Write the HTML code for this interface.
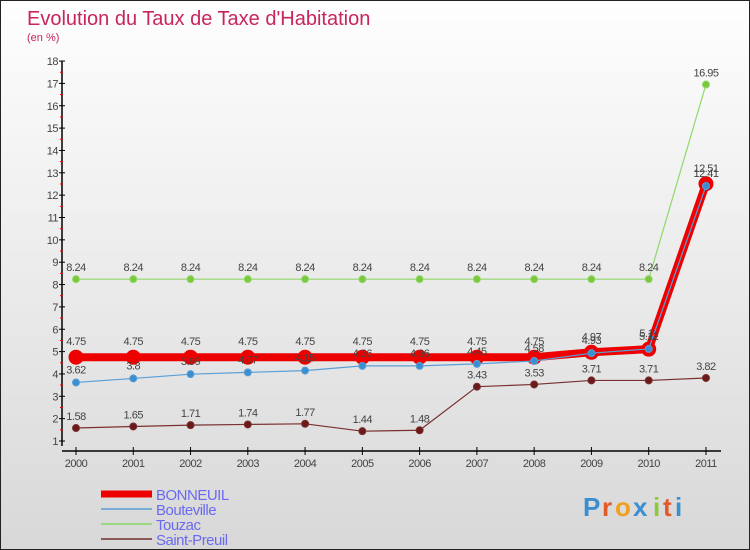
<!DOCTYPE html>
<html><head><meta charset="utf-8"><style>
body{margin:0;}
#wrap{width:750px;height:550px;position:relative;box-sizing:border-box;border:1px solid #222;background:linear-gradient(#fefefe,#d8d8d8);font-family:"Liberation Sans",sans-serif;overflow:hidden}
svg text{font-family:"Liberation Sans",sans-serif}
</style></head><body>
<div id="wrap">
<svg id="chart" width="750" height="550">
<text x="26" y="24" font-size="20" fill="#c8265a">Evolution du Taux de Taxe d'Habitation</text>
<text x="26" y="40" font-size="11" fill="#c8265a">(en %)</text>
<g id="axes"></g><g id="series"></g><g id="legend"></g>
<g font-size="26" font-weight="bold">
<text x="582" y="515" fill="#3a8fd0">P</text><text x="601" y="515" fill="#e05a2a">r</text><text x="614" y="515" fill="#f0a020">o</text><text x="632" y="515" fill="#3a8fd0">x</text><text x="652" y="515" fill="#8cc83c">i</text><text x="662" y="515" fill="#e05a2a">t</text><text x="674" y="515" fill="#3a8fd0">i</text>
</g>
</svg>
</div>
<script>
const years=["2000","2001","2002","2003","2004","2005","2006","2007","2008","2009","2010","2011"];
const yTicks=[1,2,3,4,5,6,7,8,9,10,11,12,13,14,15,16,17,18];
const bonneuil=[4.75,4.75,4.75,4.75,4.75,4.75,4.75,4.75,4.75,4.97,5.11,12.51];
const bouteville=[3.62,3.8,3.99,4.07,4.15,4.36,4.36,4.45,4.58,4.93,5.12,12.41];
const touzac=[8.24,8.24,8.24,8.24,8.24,8.24,8.24,8.24,8.24,8.24,8.24,16.95];
const saintPreuil=[1.58,1.65,1.71,1.74,1.77,1.44,1.48,3.43,3.53,3.71,3.71,3.82];
const NS="http://www.w3.org/2000/svg";
const X=i=>75+i*57.27;
const Y=v=>440-(v-1)*22.35;
function mk(t,a,p){const e=document.createElementNS(NS,t);for(const k in a)e.setAttribute(k,a[k]);p.appendChild(e);return e;}
const ax=document.getElementById('axes');
let l=mk('line',{x1:61,y1:Y(18),x2:61,y2:Y(1)+5,stroke:'#000','stroke-width':1.5},ax);


l=mk('line',{x1:61,y1:450,x2:720,y2:450,stroke:'#000','stroke-width':1.5},ax);


yTicks.forEach(v=>{
 mk('line',{x1:58,x2:64,y1:Y(v),y2:Y(v),stroke:'#000'},ax);
 if(v<18)mk('line',{x1:59,x2:62,y1:Y(v+0.5),y2:Y(v+0.5),stroke:'#e00'},ax);
 const t=mk('text',{x:57,y:Y(v)+4,'font-size':11,'text-anchor':'end',fill:'#444','letter-spacing':'-0.5'},ax);
 t.textContent=v;
 
 
});
years.forEach((y,i)=>{
 mk('line',{x1:X(i),x2:X(i),y1:446,y2:454,stroke:'#000'},ax);
 const t=mk('text',{x:X(i),y:466,'font-size':11,'text-anchor':'middle',fill:'#444','letter-spacing':'-0.5'},ax);
 t.textContent=y;
 
 
});
const sg=document.getElementById('series');
function series(vals,color,w,r,dot,name,lblDy){
 const g=mk('g',{},sg);
 
 
 const pl=mk('polyline',{points:vals.map((v,i)=>X(i)+','+Y(v)).join(' '),fill:'none',stroke:color,'stroke-width':w},g);
 
 
 vals.forEach((v,i)=>{
  const c=mk('circle',{cx:X(i),cy:Y(v),r:r,fill:dot,stroke:color,'stroke-width':1},g);
  
  
  const t=mk('text',{x:X(i),y:Y(v)-lblDy,'font-size':11,'text-anchor':'middle',fill:'#444','letter-spacing':'-0.5'},g);
  t.textContent=v;
  
  
 });
}
series(touzac,'#8fd86a',1.2,3.5,'#7cc83c','touzac',8);
series(saintPreuil,'#7a3030',1.2,3.5,'#6a1a1a','saint-preuil',8);
series(bonneuil,'#ee0000',8,7,'#ee0000','bonneuil',12);
series(bouteville,'#5a9fd8',1.2,3.5,'#3a8fd0','bouteville',9);
const lg=document.getElementById('legend');
[['BONNEUIL','#ee0000',7],['Bouteville','#7aaed8',2],['Touzac','#9ad880',2],['Saint-Preuil','#8a5a5a',2]].forEach((d,i)=>{
 const y=493+i*15;
 const ln=mk('line',{x1:100,x2:151,y1:y,y2:y,stroke:d[1],'stroke-width':d[2]},lg);
 
 
 const t=mk('text',{x:155,y:y+6,'font-size':15,fill:'#6a6af0','letter-spacing':'-0.5'},lg);
 t.textContent=d[0];
 
 
});
</script>
</body></html>
